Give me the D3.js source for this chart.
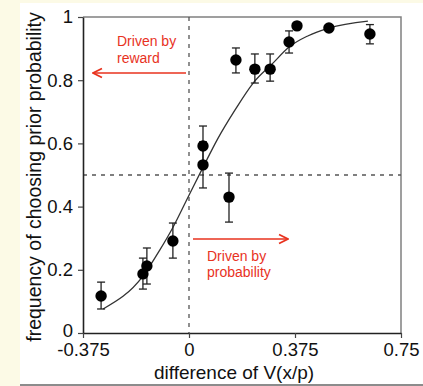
<html>
<script src='https://d3js.org/d3.v7.min.js'></script>
<body style="margin:0; background:#fcfae6;">
<svg width=423 height=386></svg>
<script>
// observed points
var xVals = [-0.311, -0.163, -0.149, -0.057, 0.0495, 0.0495, 0.1415, 0.166, 0.233, 0.287, 0.354, 0.382, 0.495, 0.640];
var yVals = [0.117, 0.187, 0.212, 0.291, 0.592, 0.532, 0.430, 0.864, 0.835, 0.835, 0.921, 0.972, 0.965, 0.946];
var errLo = [0.076, 0.139, 0.155, 0.237, 0.529, 0.459, 0.351, 0.823, 0.791, 0.797, 0.886, 0.972, 0.965, 0.915];
var errHi = [0.161, 0.237, 0.269, 0.348, 0.655, 0.605, 0.506, 0.902, 0.883, 0.883, 0.956, 0.972, 0.965, 0.976];

// fitted curve
var fitX = [-0.304, -0.163, -0.103, -0.057, 0, 0.05, 0.10, 0.163, 0.227, 0.297, 0.354, 0.42, 0.495, 0.633];
var fitY = [0.076, 0.180, 0.263, 0.334, 0.436, 0.525, 0.612, 0.706, 0.791, 0.854, 0.905, 0.940, 0.965, 0.987];

var xTicks = [-0.375, 0, 0.375, 0.75];
var xTickLabels = ["-0.375", "0", "0.375", "0.75"];
var yTicks = [0, 0.2, 0.4, 0.6, 0.8, 1];
var yTickLabels = ["0", "0.2", "0.4", "0.6", "0.8", "1"];

var red = "#e8321e";
var font = "'Liberation Sans', Arial, sans-serif";

var x = d3.scaleLinear().domain([-0.375, 0.75]).range([83, 401]);
var y = d3.scaleLinear().domain([0, 1]).range([333, 17]);

var svg = d3.select('svg');

// white panel with a thin shadow at the bottom
svg.append("rect").attr("x", 20).attr("y", 3).attr("width", 403).attr("height", 381).attr("fill", "white");
svg.append("rect").attr("x", 20).attr("y", 384).attr("width", 403).attr("height", 2).attr("fill", "#8c8c8c");

// frame top / right
svg.append("path")
    .attr("d", "M" + x(-0.375) + "," + y(1) + "H" + x(0.75) + "V" + y(0))
    .attr("fill", "none").attr("stroke", "#808080").attr("stroke-width", 1.5);

// dashed reference lines
svg.append("line")
    .attr("x1", x(0)).attr("x2", x(0)).attr("y1", y(1)).attr("y2", y(0))
    .attr("stroke", "#555").attr("stroke-width", 1.3).attr("stroke-dasharray", "4,5");
svg.append("line")
    .attr("x1", x(-0.375)).attr("x2", x(0.75)).attr("y1", y(0.5)).attr("y2", y(0.5))
    .attr("stroke", "#555").attr("stroke-width", 1.3).attr("stroke-dasharray", "4,5");

// axes
var yAxis = svg.append('g').attr("transform", "translate(" + x(-0.375) + ",0)")
    .call(d3.axisLeft(y).tickValues(yTicks).tickFormat(function(d, i) { return yTickLabels[i]; })
        .tickSize(5).tickSizeOuter(0).tickPadding(5));
var xAxis = svg.append('g').attr("transform", "translate(0," + y(0) + ")")
    .call(d3.axisBottom(x).tickValues(xTicks).tickFormat(function(d, i) { return xTickLabels[i]; })
        .tickSize(5).tickSizeOuter(0).tickPadding(5));
[xAxis, yAxis].forEach(function(a) {
    a.select(".domain").attr("stroke", "#222").attr("stroke-width", 1.6);
    a.selectAll(".tick line").attr("stroke", "#444").attr("stroke-width", 1.2);
    a.selectAll("text").attr("font-family", font).attr("font-size", 18.5).attr("fill", "#111");
});
// the "0" label sits a touch higher so it clears "-0.375"
yAxis.selectAll(".tick text").filter(function(d) { return d === 0; }).attr("dy", "0.2em");

// fit curve
svg.append("path")
    .datum(fitX.map(function(d, i) { return [d, fitY[i]]; }))
    .attr("fill", "none").attr("stroke", "#333").attr("stroke-width", 1.3)
    .attr("d", d3.line().x(function(d) { return x(d[0]); }).y(function(d) { return y(d[1]); })
        .curve(d3.curveMonotoneX));

// error bars
var eb = svg.append("g").attr("stroke", "#222").attr("stroke-width", 1.3);
xVals.forEach(function(v, i) {
    if (errHi[i] - errLo[i] < 0.001) return;
    eb.append("line").attr("x1", x(v)).attr("x2", x(v)).attr("y1", y(errLo[i])).attr("y2", y(errHi[i]));
    eb.append("line").attr("x1", x(v) - 4).attr("x2", x(v) + 4).attr("y1", y(errLo[i])).attr("y2", y(errLo[i]));
    eb.append("line").attr("x1", x(v) - 4).attr("x2", x(v) + 4).attr("y1", y(errHi[i])).attr("y2", y(errHi[i]));
});

// points
svg.append("g").selectAll("circle")
    .data(xVals)
    .join("circle")
    .attr("cx", function(d) { return x(d); })
    .attr("cy", function(d, i) { return y(yVals[i]); })
    .attr("r", 5.7)
    .attr("fill", "black");

// annotations
svg.append("defs").append("marker")
    .attr("id", "ah").attr("viewBox", "0 0 10 10").attr("refX", 9).attr("refY", 5)
    .attr("markerWidth", 7).attr("markerHeight", 7).attr("orient", "auto")
    .append("path").attr("d", "M1,1L9,5L1,9").attr("fill", "none").attr("stroke", red).attr("stroke-width", 1.6);

svg.append("line").attr("x1", 186).attr("x2", 93).attr("y1", 73).attr("y2", 73)
    .attr("stroke", red).attr("stroke-width", 1.6).attr("marker-end", "url(#ah)");
svg.append("line").attr("x1", 193).attr("x2", 288).attr("y1", 239).attr("y2", 239)
    .attr("stroke", red).attr("stroke-width", 1.6).attr("marker-end", "url(#ah)");

var ann = svg.append("g").attr("font-family", font).attr("font-size", 14).attr("fill", red);
ann.append("text").attr("x", 117).attr("y", 46).text("Driven by");
ann.append("text").attr("x", 117).attr("y", 63).text("reward");
ann.append("text").attr("x", 207).attr("y", 261).text("Driven by");
ann.append("text").attr("x", 207).attr("y", 277).text("probability");

// axis titles
svg.append("text")
    .attr("transform", "translate(41,177) rotate(-90)")
    .attr("text-anchor", "middle")
    .attr("font-family", font).attr("font-size", 19.5).attr("fill", "#111")
    .text("frequency of choosing prior probability");
svg.append("text")
    .attr("x", 234).attr("y", 378.5)
    .attr("text-anchor", "middle")
    .attr("font-family", font).attr("font-size", 19).attr("fill", "#111")
    .text("difference of V(x/p)");
</script>
</body>
</html>
